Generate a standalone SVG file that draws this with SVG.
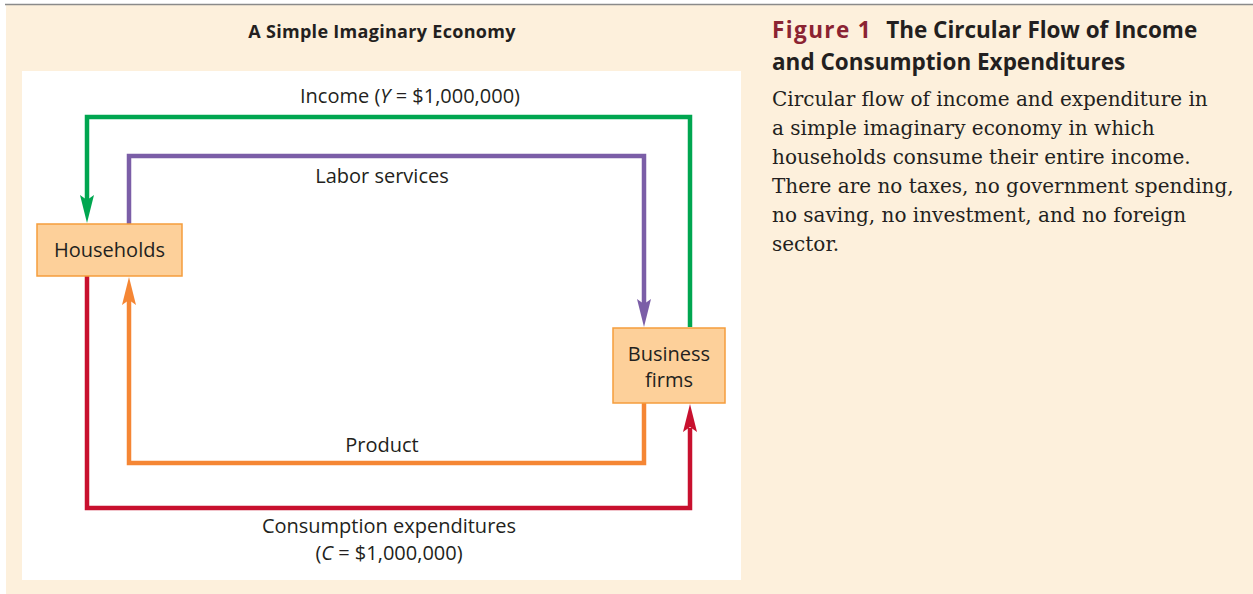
<svg xmlns="http://www.w3.org/2000/svg" width="1253" height="594" viewBox="0 0 1253 594">
<defs>
<style>
.sans{font-family:"Open Sans","Lato","Liberation Sans",sans-serif;fill:#231f20;}
.lbl{font-size:20px;text-anchor:middle;}
.serif{font-family:"DejaVu Serif","Liberation Serif",serif;fill:#231f20;font-size:20px;}
.head{font-family:"Open Sans","Lato","Liberation Sans",sans-serif;font-weight:bold;font-size:22.5px;fill:#231f20;}
.box{fill:#fdd09a;stroke:#f59d3c;stroke-width:1.5;}
.flow{fill:none;stroke-width:4.5;stroke-linejoin:miter;}
</style>
</defs>
<rect x="0" y="0" width="1253" height="594" fill="#ffffff"/>
<rect x="6" y="5" width="1247" height="589" fill="#fdf0dc"/>
<line x1="5" y1="4.5" x2="1253" y2="4.5" stroke="#8a8a8a" stroke-width="1.5"/>
<rect x="22" y="71" width="719" height="509" fill="#ffffff"/>
<text class="sans" x="382" y="38" font-size="18" font-weight="bold" text-anchor="middle" letter-spacing="0.3">A Simple Imaginary Economy</text>
<g id="connectors">
<polyline class="flow" stroke="#00a650" points="690,327 690,117 87,117 87,200"/>
<polygon fill="#00a650" points="80,195 87,200 94,195 87,223"/>
<polyline class="flow" stroke="#7b5ea7" points="129,224 129,156 644,156 644,304"/>
<polygon fill="#7b5ea7" points="637,299 644,304 651,299 644,327"/>
<polyline class="flow" stroke="#f58634" points="644,403 644,463 129,463 129,300"/>
<polygon fill="#f58634" points="122,305 129,300 136,305 129,277"/>
<polyline class="flow" stroke="#c8102e" points="87,276 87,508 690,508 690,428"/>
<polygon fill="#c8102e" points="683,432 690,427 697,432 690,404"/>
</g>
<g id="households">
<rect class="box" x="37" y="224" width="145" height="52"/>
<text class="sans lbl" x="109.5" y="257">Households</text>
</g>
<g id="business">
<rect class="box" x="613" y="328" width="112" height="75"/>
<text class="sans lbl" x="669" y="361">Business</text>
<text class="sans lbl" x="669" y="387">firms</text>
</g>
<g id="labels">
<text class="sans lbl" x="410" y="103">Income (<tspan font-style="italic">Y</tspan> = $1,000,000)</text>
<text class="sans lbl" x="382" y="183">Labor services</text>
<text class="sans lbl" x="382" y="452">Product</text>
<text class="sans lbl" x="389" y="533">Consumption expenditures</text>
<text class="sans lbl" x="389" y="560">(<tspan font-style="italic">C</tspan> = $1,000,000)</text>
</g>
<g id="caption">
<text class="head" x="772" y="38"><tspan fill="#8b2332" letter-spacing="1.4">Figure 1</tspan><tspan dx="14">The Circular Flow of Income</tspan></text>
<text class="head" x="772" y="70">and Consumption Expenditures</text>
<text class="serif" x="772" y="106">Circular flow of income and expenditure in</text>
<text class="serif" x="772" y="135">a simple imaginary economy in which</text>
<text class="serif" x="772" y="164">households consume their entire income.</text>
<text class="serif" x="772" y="193">There are no taxes, no government spending,</text>
<text class="serif" x="772" y="222">no saving, no investment, and no foreign</text>
<text class="serif" x="772" y="251">sector.</text>
</g>
</svg>
